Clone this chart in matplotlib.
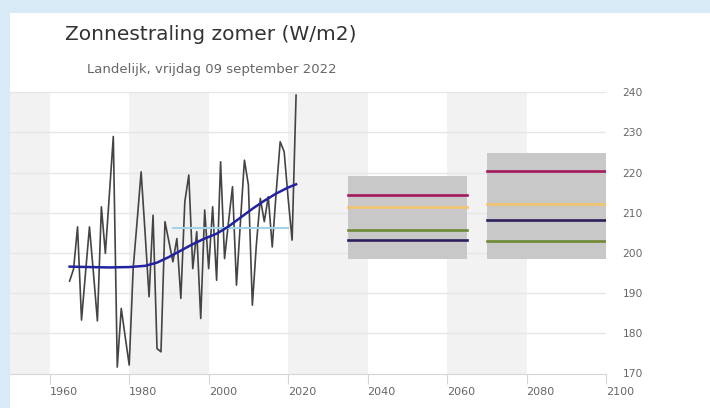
import numpy as np
import matplotlib
matplotlib.use("Agg")
import matplotlib.pyplot as plt
from matplotlib.patches import Rectangle

# observed yearly values
years = list(range(1965, 2023))
obs = [193.0, 196.0, 206.5, 183.3, 195.0, 206.5, 195.0, 183.1, 211.5, 199.9,
       214.4, 229.0, 171.6, 186.2, 179.1, 172.1, 196.1, 208.0, 220.2, 205.0,
       189.1, 209.4, 176.2, 175.4, 207.8, 202.8, 197.8, 203.6, 188.7, 212.8,
       219.4, 196.1, 205.3, 183.7, 210.7, 196.1, 211.5, 193.2, 222.7, 198.6,
       207.8, 216.5, 192.0, 207.8, 223.1, 216.9, 187.0, 202.0, 213.6, 207.8,
       214.0, 201.5, 215.2, 227.7, 225.2, 213.6, 203.2, 239.3]

# smoothed trend
trend_years = [1965, 1970, 1975, 1980, 1984, 1987, 1990, 1993, 1996, 1999,
               2002, 2005, 2008, 2011, 2014, 2017, 2020, 2022]
trend = [196.6, 196.5, 196.4, 196.5, 196.8, 197.6, 199.0, 200.6, 202.2, 203.6,
         204.8, 206.6, 208.8, 211.0, 213.0, 214.8, 216.3, 217.1]

# 1991-2020 normal
normal_years = [1991, 2020]
normal = 206.1

# scenario boxes (2050 and 2085)
box_start = [2035, 2070]
box_end = [2065, 2100]
box_low = [198.6, 198.6]
box_high = [219.2, 225.0]
scen_colors = ["#a3195b", "#f2c46d", "#708a34", "#2e1e5b"]
scen_2050 = [214.4, 211.4, 205.6, 203.3]
scen_2085 = [220.4, 212.3, 203.1, 208.3]

xticks = list(range(1960, 2101, 20))
yticks = list(range(170, 241, 10))

W, H = 710, 408
fig = plt.figure(figsize=(W / 100, H / 100), dpi=100)
fig.patch.set_facecolor("#d8eaf6")

# white card
bg = fig.add_axes([10 / W, 0, 1 - 10 / W, 1 - 13 / H])
bg.set_facecolor("white")
bg.set_xticks([])
bg.set_yticks([])
for s in bg.spines.values():
    s.set_visible(False)

ax = fig.add_axes([10 / W, (H - 373.5) / H, (606 - 10) / W, (373.5 - 92.3) / H])
ax.set_facecolor("white")
ax.set_xlim(1950, 2100)
ax.set_ylim(170, 240)

for x0 in [1950, 1980, 2020, 2060]:
    ax.axvspan(x0, x0 + 10 if x0 == 1950 else x0 + 20, color="#f2f2f2", lw=0, zorder=0)
for y in yticks[1:]:
    ax.axhline(y, color="#e6e6e6", lw=1, zorder=1)

for i in range(2):
    ax.add_patch(Rectangle((box_start[i], box_low[i]), box_end[i] - box_start[i],
                           box_high[i] - box_low[i], facecolor="#c8c8c8",
                           edgecolor="none", zorder=2))
for v, c in zip(scen_2050, scen_colors):
    ax.plot([box_start[0], box_end[0]], [v, v], color=c, lw=1.9, zorder=3)
for v, c in zip(scen_2085, scen_colors):
    ax.plot([box_start[1], box_end[1]], [v, v], color=c, lw=1.9, zorder=3)

ax.plot(years, obs, color="#444444", lw=1.2, zorder=4, clip_on=False)
ax.plot(normal_years, [normal, normal], color="#a3d3e6", lw=1.5, zorder=5)
ax.plot(trend_years, trend, color="#2323a0", lw=1.8, zorder=6)

for s in ["top", "left", "right"]:
    ax.spines[s].set_visible(False)
ax.spines["bottom"].set_color("#d6d6d6")

ax.set_xticks(xticks)
ax.tick_params(axis="x", direction="out", length=7, color="#d6d6d6",
               labelsize=8, labelcolor="#666666", pad=3)
for lab in ax.get_xticklabels():
    lab.set_ha("left")

ax.yaxis.tick_right()
ax.set_yticks(yticks)
ax.tick_params(axis="y", length=0, labelsize=7.7, labelcolor="#666666", pad=12)

fig.text(65 / W, 1 - 35 / H, "Zonnestraling zomer (W/m2)", fontsize=14.5,
         color="#333333", va="center", ha="left")
fig.text(87 / W, 1 - 69 / H, "Landelijk, vrijdag 09 september 2022", fontsize=9.5,
         color="#666666", va="center", ha="left")

fig.savefig("out.png", dpi=100, facecolor=fig.get_facecolor())
